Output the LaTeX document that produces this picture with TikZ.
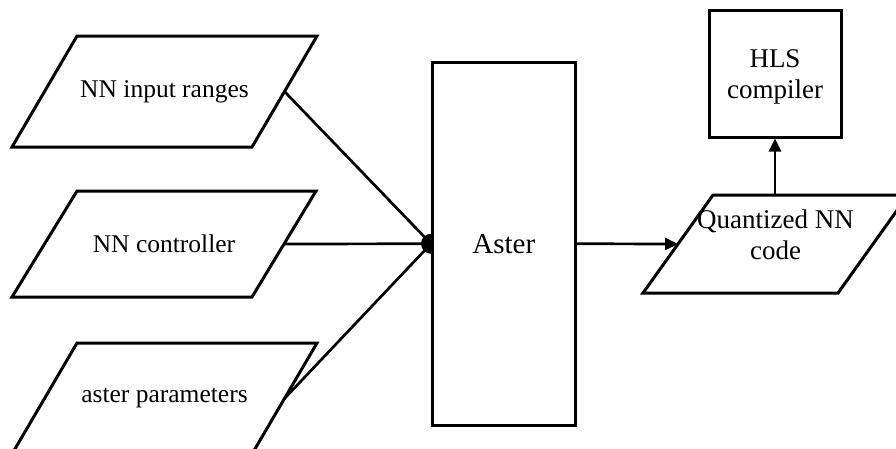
\documentclass[tikz,border=0pt]{standalone}
\usepackage{fontspec}
\setmainfont{Liberation Serif}
\usetikzlibrary{arrows.meta}
\begin{document}
\begin{tikzpicture}[x=1pt,y=-1pt,line join=miter,
  shapeline/.style={line width=3pt},
  conn/.style={line width=2.7pt},
  arr/.style={conn,-{Triangle[length=13pt,width=12pt]}},
  smalltxt/.style={font=\fontsize{25.5}{29}\selectfont},
  bigtxt/.style={font=\fontsize{27}{31}\selectfont,align=center},
  boxnode/.style={draw,line width=3pt,fill=white,inner sep=0pt}]
\useasboundingbox (0,0) rectangle (896,448);

% input parallelograms
\draw[shapeline] (12,147) -- (252,147) -- (317,36) -- (77,36) -- cycle;
\node[smalltxt] (inranges) at (164.5,91.5) {NN input ranges};
\coordinate (p1e) at (284.5,91.5);

\draw[shapeline] (12,297) -- (252,297) -- (316,191) -- (77,191) -- cycle;
\node[smalltxt] (controller) at (164,244) {NN controller};
\coordinate (p2e) at (284,244);

\draw[shapeline] (12,454) -- (252,454) -- (317,343) -- (77,343) -- cycle;
\node[smalltxt] (params) at (164.5,398) {aster parameters};
\coordinate (p3e) at (284.5,398.5);

% Aster box
\node[boxnode,minimum width=142.5pt,minimum height=362.5pt,
      font=\fontsize{29}{32}\selectfont] (aster) at (503.75,243.75) {Aster};

% connectors into Aster
\draw[conn] (p1e) -- (aster.west);
\draw[conn] (p2e) -- (aster.west);
\draw[conn] (p3e) -- (aster.west);
\fill (aster.west) -- ++(0,-10) arc[start angle=270,end angle=90,radius=10] -- cycle;

% Quantized NN code parallelogram
\draw[shapeline] (643,293) -- (838,293) -- (908,195) -- (713,195) -- cycle;
\node[bigtxt] (qcode) at (775.5,235) {Quantized NN\\code};
\coordinate (qw) at (678,244);
\coordinate (qn) at (775,195);

% HLS compiler box
\node[boxnode,minimum width=132pt,minimum height=127pt] (hls) at (775,73.5) {};
\node[bigtxt] (hlstext) at (775,77) {HLS\\compiler};

\draw[arr] (aster.east) -- (qw);
\draw[arr] (qn) -- (hls.south);
\end{tikzpicture}
\end{document}
